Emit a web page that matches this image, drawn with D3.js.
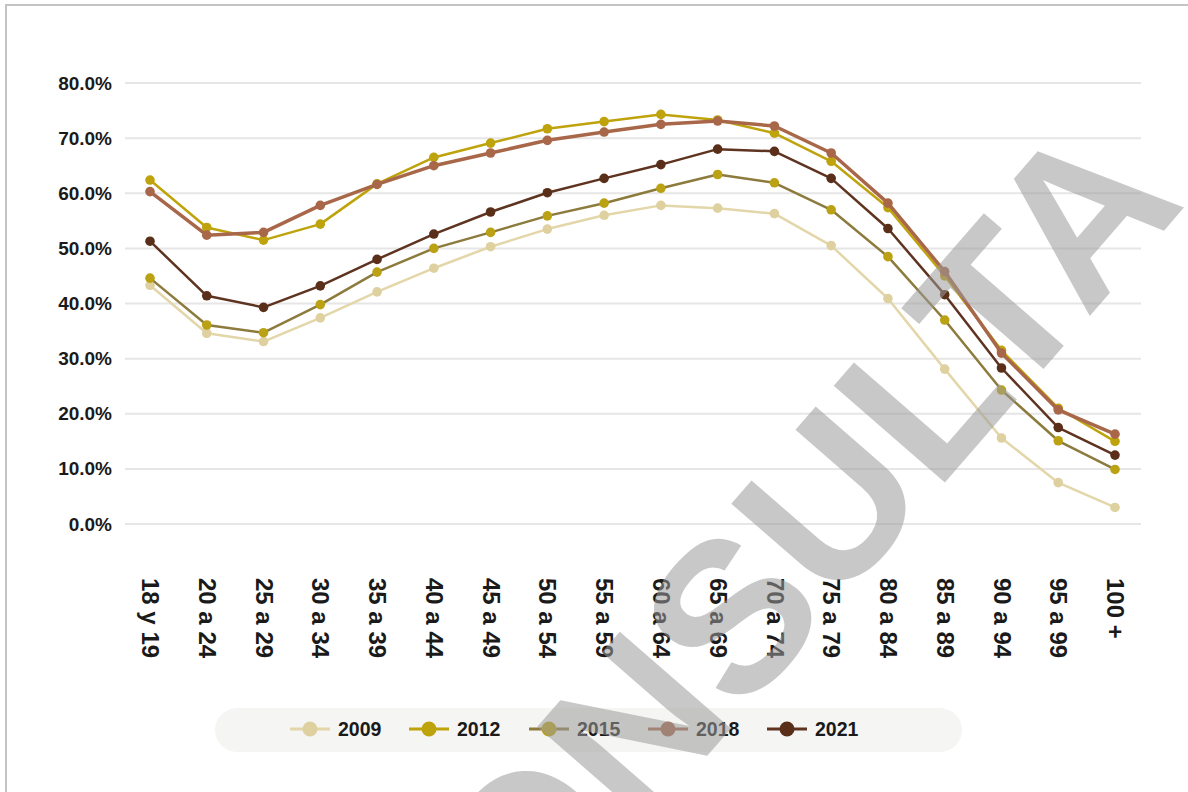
<!DOCTYPE html>
<html>
<head>
<meta charset="utf-8">
<script src="https://cdn.jsdelivr.net/npm/d3@7"></script>
<style>
  body { margin: 0; background: #fff; }
  svg text { font-family: "Liberation Sans", Arial, sans-serif; }
</style>
</head>
<body>
<svg id="chart" width="1188" height="792"></svg>
<script>
// age groups (x axis)
var categories = ["18 y 19", "20 a 24", "25 a 29", "30 a 34", "35 a 39", "40 a 44",
  "45 a 49", "50 a 54", "55 a 59", "60 a 64", "65 a 69", "70 a 74", "75 a 79",
  "80 a 84", "85 a 89", "90 a 94", "95 a 99", "100 +"];

var years = ["2009", "2012", "2015", "2018", "2021"];

// values in %
var v2009 = [43.3, 34.6, 33.1, 37.4, 42.1, 46.4, 50.3, 53.5, 56.0, 57.8, 57.3, 56.3, 50.5, 40.9, 28.1, 15.6, 7.5, 3.0];
var v2012 = [62.4, 53.8, 51.5, 54.4, 61.7, 66.5, 69.1, 71.7, 73.0, 74.3, 73.3, 70.9, 65.8, 57.4, 45.0, 31.5, 21.0, 15.0];
var v2015 = [44.6, 36.1, 34.7, 39.8, 45.7, 50.0, 52.9, 55.9, 58.2, 60.9, 63.4, 61.9, 57.0, 48.5, 37.0, 24.3, 15.1, 9.9];
var v2018 = [60.3, 52.4, 52.9, 57.8, 61.6, 65.0, 67.3, 69.6, 71.1, 72.5, 73.1, 72.2, 67.3, 58.2, 45.8, 31.0, 20.7, 16.3];
var v2021 = [51.3, 41.4, 39.3, 43.2, 48.0, 52.6, 56.6, 60.1, 62.7, 65.2, 68.0, 67.6, 62.7, 53.6, 41.6, 28.3, 17.5, 12.5];

var yTicks = [0, 10, 20, 30, 40, 50, 60, 70, 80];

var series = [
  {name: "2009", values: v2009, line: "#e3d6a9", dot: "#dfd0a0", width: 2.5},
  {name: "2012", values: v2012, line: "#bfa30c", dot: "#bfa30c", width: 2.5},
  {name: "2015", values: v2015, line: "#8c7b3c", dot: "#bba214", width: 2.5},
  {name: "2018", values: v2018, line: "#a9674a", dot: "#a9674a", width: 3.5},
  {name: "2021", values: v2021, line: "#5e3420", dot: "#5a2f1a", width: 2.5}
];

var svg = d3.select("#chart");

// outer frame
svg.append("rect")
  .attr("x", 6).attr("y", 5)
  .attr("width", 1200).attr("height", 800)
  .attr("fill", "#fff")
  .attr("stroke", "#c4c4c4")
  .attr("stroke-width", 2);

var x = d3.scalePoint().domain(categories).range([150, 1115]);
var y = d3.scaleLinear().domain([0, 80]).range([524, 83]);

// grid
svg.append("g")
  .selectAll("line")
  .data(yTicks)
  .enter().append("line")
  .attr("x1", 125).attr("x2", 1141)
  .attr("y1", function(d) { return y(d); })
  .attr("y2", function(d) { return y(d); })
  .attr("stroke", "#e6e6e6")
  .attr("stroke-width", 2);

// y axis labels
var yAxis = svg.append("g")
  .attr("transform", "translate(112,0)")
  .call(d3.axisLeft(y).tickValues(yTicks).tickSize(0).tickPadding(0)
    .tickFormat(function(d) { return d.toFixed(1) + "%"; }));
yAxis.select(".domain").remove();
yAxis.selectAll("text")
  .attr("font-family", "Liberation Sans, Arial, sans-serif")
  .attr("font-size", 19)
  .attr("font-weight", "bold")
  .attr("fill", "#1a1a1a");

// x axis labels (rotated)
var xAxis = svg.append("g")
  .attr("transform", "translate(0,578)")
  .call(d3.axisBottom(x).tickSize(0).tickPadding(0));
xAxis.select(".domain").remove();
xAxis.selectAll("text")
  .attr("font-family", "Liberation Sans, Arial, sans-serif")
  .attr("font-size", 24)
  .attr("font-weight", "bold")
  .attr("fill", "#1a1a1a")
  .attr("transform", "rotate(90)")
  .attr("text-anchor", "start")
  .attr("x", 0)
  .attr("y", 0)
  .attr("dy", "0.35em");

// lines
var line = d3.line()
  .x(function(d, i) { return x(categories[i]); })
  .y(function(d) { return y(d); });

series.forEach(function(s) {
  var g = svg.append("g");
  g.append("path")
    .datum(s.values)
    .attr("d", line)
    .attr("fill", "none")
    .attr("stroke", s.line)
    .attr("stroke-width", s.width)
    .attr("stroke-linejoin", "round");
  g.selectAll("circle")
    .data(s.values)
    .enter().append("circle")
    .attr("cx", function(d, i) { return x(categories[i]); })
    .attr("cy", function(d) { return y(d); })
    .attr("r", 4.8)
    .attr("fill", s.dot);
});

// legend
var legend = svg.append("g");
legend.append("rect")
  .attr("x", 215).attr("y", 708)
  .attr("width", 747).attr("height", 44)
  .attr("rx", 22)
  .attr("fill", "#f5f5f3");

var legendX = [290, 409, 529, 648, 767];
series.forEach(function(s, i) {
  var lg = legend.append("g").attr("transform", "translate(" + legendX[i] + ",729)");
  lg.append("line")
    .attr("x1", 0).attr("x2", 40)
    .attr("stroke", s.line)
    .attr("stroke-width", 3);
  lg.append("circle")
    .attr("cx", 20).attr("r", 7.5)
    .attr("fill", s.dot);
  lg.append("text")
    .attr("x", 48)
    .attr("dy", "0.36em")
    .attr("font-size", 19.5)
    .attr("font-weight", "bold")
    .attr("fill", "#1a1a1a")
    .text(s.name);
});

// watermark
svg.append("text")
  .attr("transform", "translate(808,640) rotate(-49)")
  .attr("text-anchor", "middle")
  .attr("font-size", 214)
  .attr("font-weight", "bold")
  .attr("fill", "#9a9a9a")
  .attr("fill-opacity", 0.55)
  .text("CONSULTA");
</script>
</body>
</html>
